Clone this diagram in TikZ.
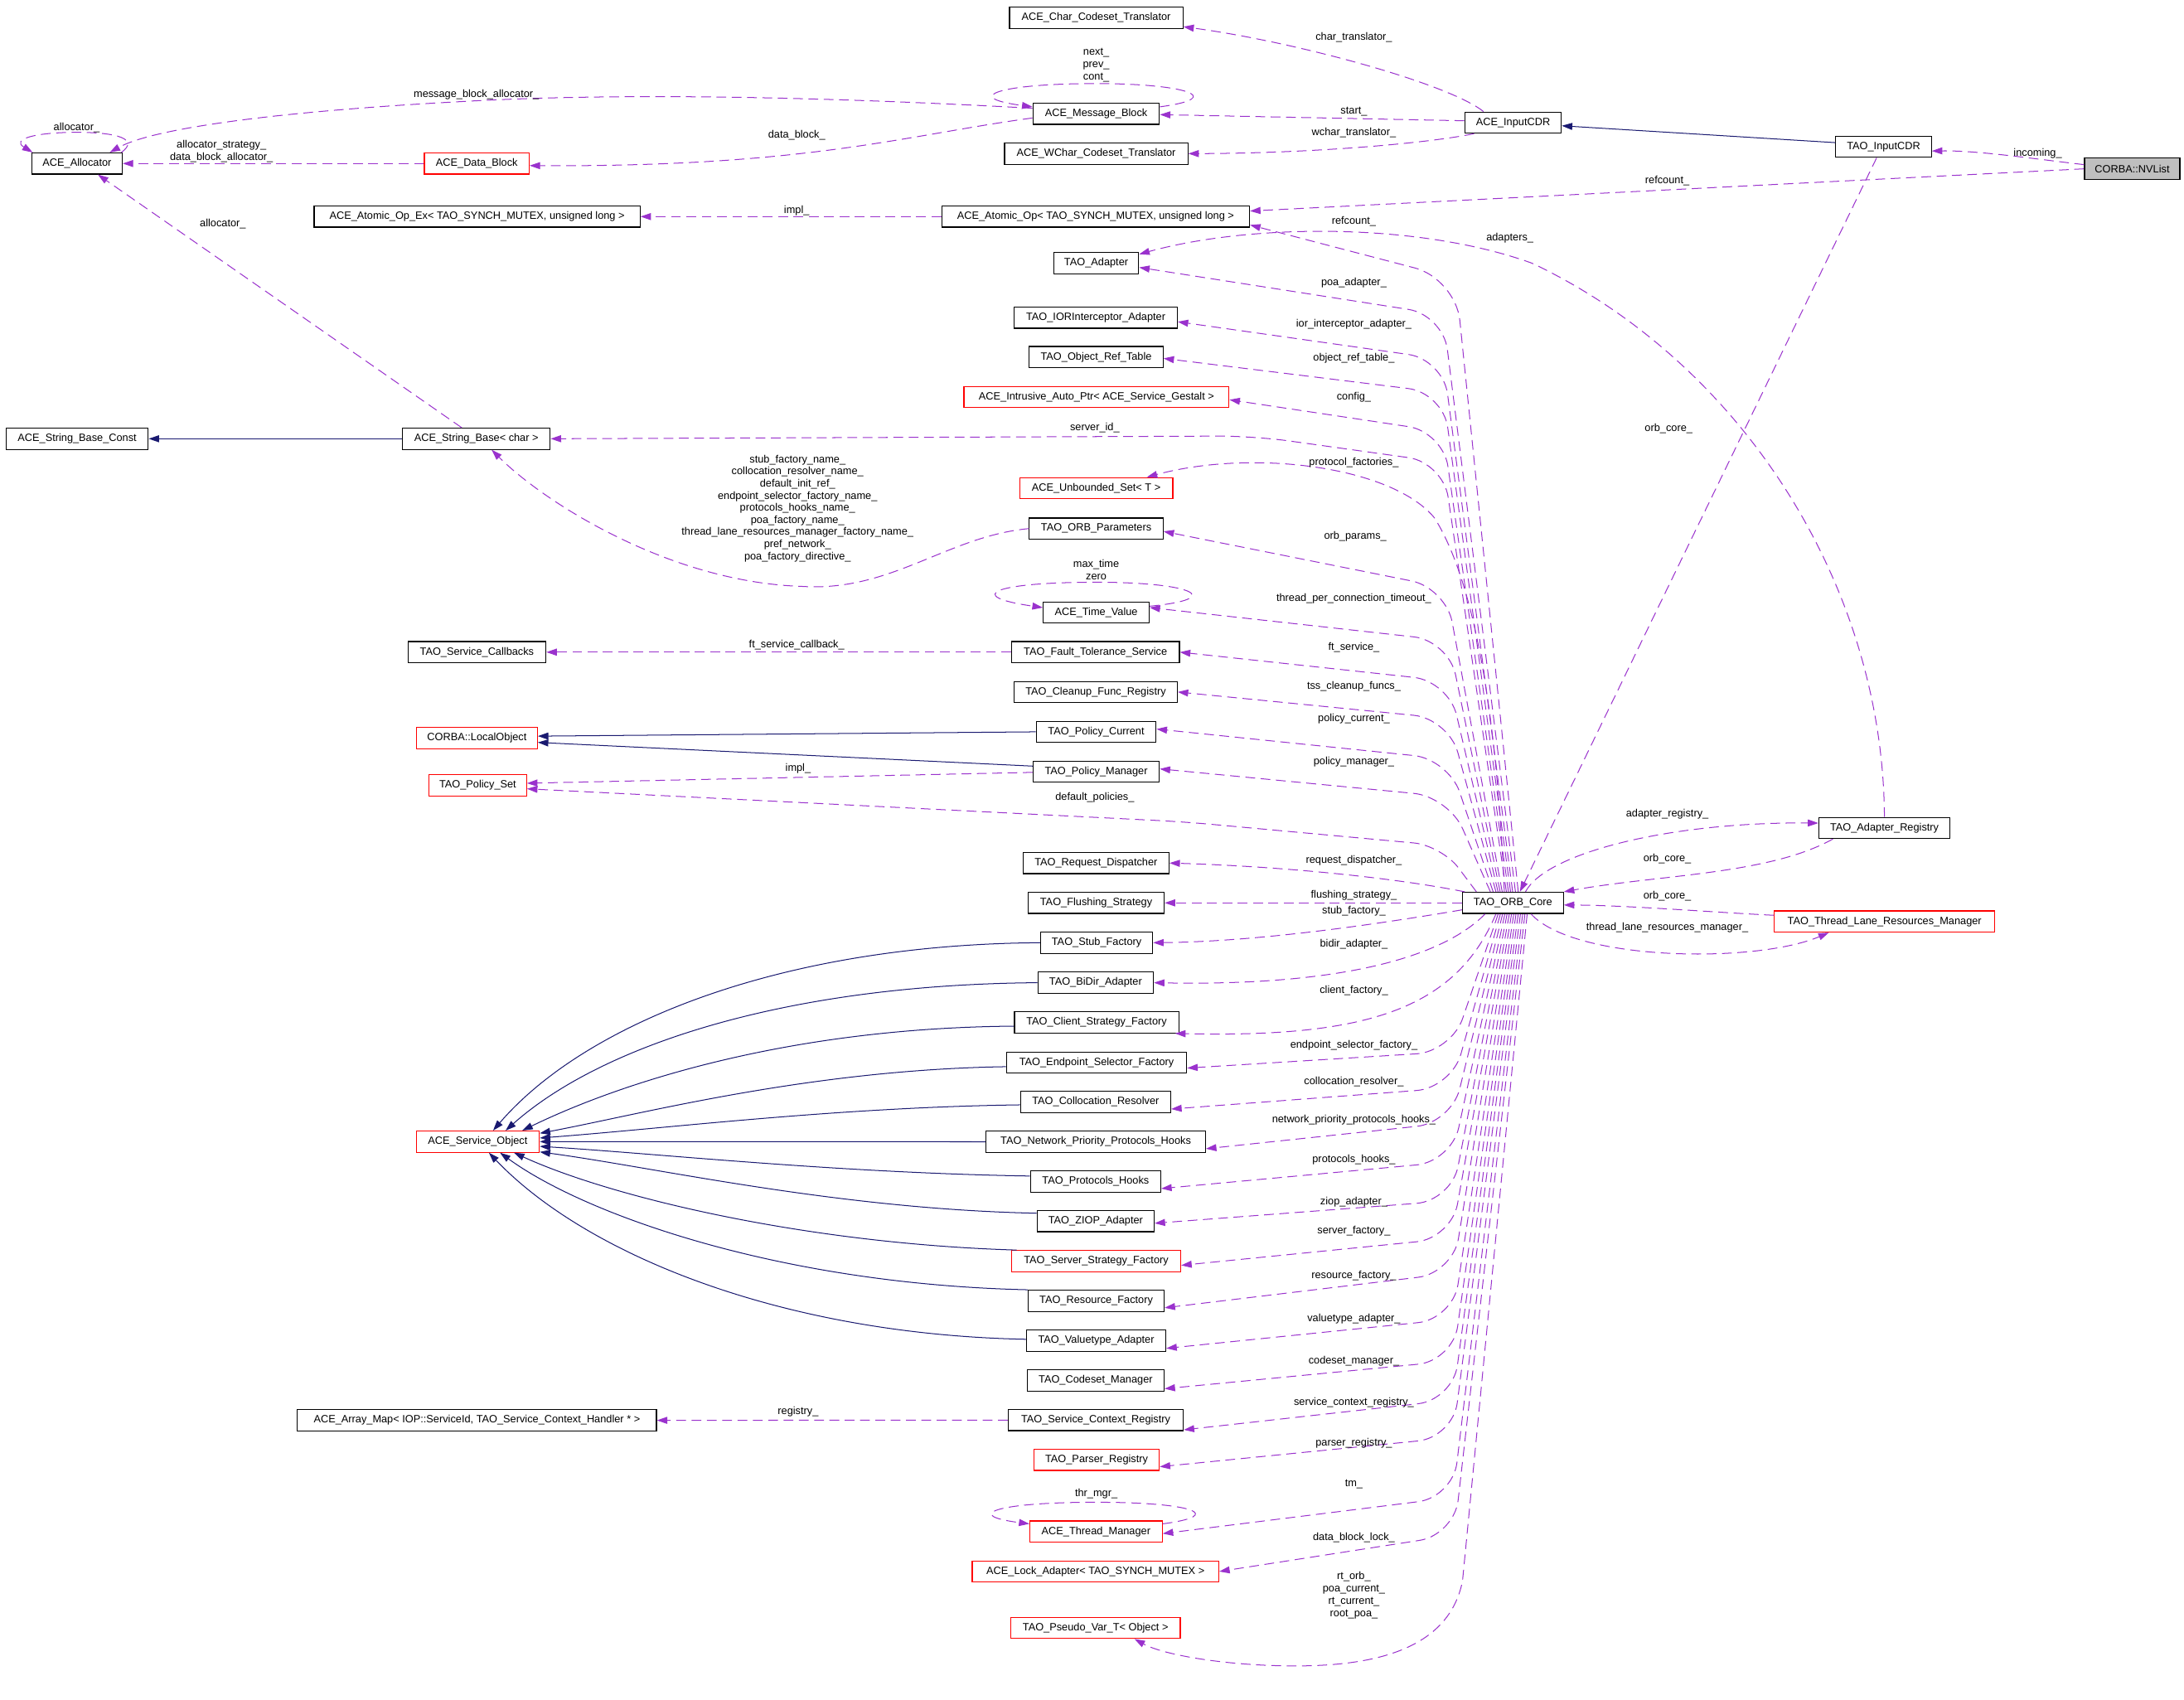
\documentclass[tikz,border=0pt]{standalone}
\usepackage{fontspec}
\setmainfont{Liberation Sans}
\usetikzlibrary{arrows.meta}
\definecolor{edgeuse}{HTML}{9A32CD}
\definecolor{edgeinh}{HTML}{191970}
\definecolor{nodegrey}{HTML}{BFBFBF}
\newcommand\lbl{\fontsize{7.6}{9}\selectfont}
\tikzset{
  box/.style={draw=black, line width=0.7pt, minimum height=15.2pt, inner sep=0pt, font=\lbl},
  redbox/.style={box, draw=red},
  rootbox/.style={box, fill=nodegrey},
  lab/.style={font=\lbl, inner sep=0pt, align=center},
  usedge/.style={draw=edgeuse, line width=0.6pt, dash pattern=on 7pt off 4pt, -{Triangle[length=7.5pt,width=5pt]}},
  inhedge/.style={draw=edgeinh, line width=0.6pt, -{Triangle[length=7.5pt,width=5pt]}},
}
\begin{document}
\begin{tikzpicture}[x=1pt,y=-1pt]
\fill[white] (0,0) rectangle (1568,1220);
\useasboundingbox (0,0) rectangle (1568,1220);

% ---------- nodes ----------
\node[box, minimum width=124.5pt] (chart) at (787,12.7) {ACE\_Char\_Codeset\_Translator};
\node[box, minimum width=90.8pt] (msgblk) at (787,81.7) {ACE\_Message\_Block};
\node[box, minimum width=131.6pt] (wchar) at (787,110.3) {ACE\_WChar\_Codeset\_Translator};
\node[box, minimum width=69.3pt] (icdr) at (1086.3,88) {ACE\_InputCDR};
\node[box, minimum width=68.6pt] (ticdr) at (1352.3,105.4) {TAO\_InputCDR};
\node[rootbox, minimum width=68.4pt] (nvlist) at (1530.8,121.2) {CORBA::NVList};
\node[box, minimum width=65pt] (alloc) at (55.3,117.4) {ACE\_Allocator};
\node[redbox, minimum width=75.2pt] (dblk) at (342.3,117.4) {ACE\_Data\_Block};
\node[box, minimum width=234pt] (aopex) at (342.5,155.5) {ACE\_Atomic\_Op\_Ex< TAO\_SYNCH\_MUTEX, unsigned long >};
\node[box, minimum width=221pt] (aop) at (786.6,155.5) {ACE\_Atomic\_Op< TAO\_SYNCH\_MUTEX, unsigned long >};
\node[box, minimum width=61pt] (adapter) at (787,189) {TAO\_Adapter};
\node[box, minimum width=117pt] (ior) at (786.7,228) {TAO\_IORInterceptor\_Adapter};
\node[box, minimum width=96pt] (ort) at (787,256.3) {TAO\_Object\_Ref\_Table};
\node[redbox, minimum width=190.3pt] (iap) at (787.2,285) {ACE\_Intrusive\_Auto\_Ptr< ACE\_Service\_Gestalt >};
\node[box, minimum width=102pt] (sbc) at (55.4,315) {ACE\_String\_Base\_Const};
\node[box, minimum width=106pt] (sb) at (342,315) {ACE\_String\_Base< char >};
\node[redbox, minimum width=110pt] (uset) at (787,350.5) {ACE\_Unbounded\_Set< T >};
\node[box, minimum width=96pt] (orbp) at (787,379.5) {TAO\_ORB\_Parameters};
\node[box, minimum width=76pt] (tv) at (787,439.7) {ACE\_Time\_Value};
\node[box, minimum width=99pt] (scb) at (342.4,468.2) {TAO\_Service\_Callbacks};
\node[box, minimum width=120.5pt] (fts) at (786.5,468.2) {TAO\_Fault\_Tolerance\_Service};
\node[box, minimum width=117pt] (cfr) at (786.7,496.8) {TAO\_Cleanup\_Func\_Registry};
\node[box, minimum width=86pt] (pc) at (787,525.4) {TAO\_Policy\_Current};
\node[redbox, minimum width=86.8pt] (lo) at (342.4,530) {CORBA::LocalObject};
\node[box, minimum width=90.6pt] (pm) at (787,554) {TAO\_Policy\_Manager};
\node[redbox, minimum width=70pt] (ps) at (343,563.8) {TAO\_Policy\_Set};
\node[box, minimum width=104.7pt] (rd) at (786.9,619.6) {TAO\_Request\_Dispatcher};
\node[box, minimum width=97.6pt] (fs) at (787,648.2) {TAO\_Flushing\_Strategy};
\node[box, minimum width=72.4pt] (orb) at (1086.2,648.2) {TAO\_ORB\_Core};
\node[box, minimum width=80.5pt] (stf) at (787.3,676.8) {TAO\_Stub\_Factory};
\node[box, minimum width=83pt] (bidir) at (786.6,705.5) {TAO\_BiDir\_Adapter};
\node[box, minimum width=118pt] (csf) at (787.3,734) {TAO\_Client\_Strategy\_Factory};
\node[box, minimum width=129.4pt] (esf) at (787.3,762.8) {TAO\_Endpoint\_Selector\_Factory};
\node[box, minimum width=107.8pt] (cr) at (786.6,791.2) {TAO\_Collocation\_Resolver};
\node[box, minimum width=157.5pt] (npph) at (786.7,819.7) {TAO\_Network\_Priority\_Protocols\_Hooks};
\node[box, minimum width=93.5pt] (ph) at (786.6,848.3) {TAO\_Protocols\_Hooks};
\node[box, minimum width=84pt] (ziop) at (786.6,876.7) {TAO\_ZIOP\_Adapter};
\node[redbox, minimum width=121.4pt] (ssf) at (787,905.4) {TAO\_Server\_Strategy\_Factory};
\node[box, minimum width=97.6pt] (rf) at (787,933.9) {TAO\_Resource\_Factory};
\node[box, minimum width=100pt] (vta) at (787,962.5) {TAO\_Valuetype\_Adapter};
\node[box, minimum width=98.3pt] (cm) at (786.6,991) {TAO\_Codeset\_Manager};
\node[box, minimum width=125.7pt] (scr) at (786.7,1019.5) {TAO\_Service\_Context\_Registry};
\node[box, minimum width=257.7pt] (am) at (342.4,1019.7) {ACE\_Array\_Map< IOP::ServiceId, TAO\_Service\_Context\_Handler * >};
\node[redbox, minimum width=90pt] (pr) at (787.3,1048) {TAO\_Parser\_Registry};
\node[redbox, minimum width=95pt] (tmgr) at (786.9,1099.5) {ACE\_Thread\_Manager};
\node[redbox, minimum width=177pt] (la) at (786.5,1128.2) {ACE\_Lock\_Adapter< TAO\_SYNCH\_MUTEX >};
\node[redbox, minimum width=121.7pt] (pv) at (786.5,1168.7) {TAO\_Pseudo\_Var\_T< Object >};
\node[redbox, minimum width=88.4pt] (so) at (343,819.6) {ACE\_Service\_Object};
\node[box, minimum width=94.2pt] (areg) at (1352.9,594.4) {TAO\_Adapter\_Registry};
\node[redbox, minimum width=158.2pt] (tlrm) at (1353,661.6) {TAO\_Thread\_Lane\_Resources\_Manager};

% ---------- top area edges ----------
\draw[usedge] ([yshift=4pt]msgblk.west) .. controls (600,70) and (450,66) .. (330,73) .. controls (200,80) and (110,92) .. ([xshift=23.5pt]alloc.north);
\draw[usedge] ([xshift=-1pt]alloc.north east) .. controls (100,100) and (85,95) .. (55,95) .. controls (25,95) and (8,100) .. ([xshift=1pt]alloc.north west);
\draw[usedge] (dblk.west) -- (alloc.east);
\draw[usedge] ([yshift=-3pt]msgblk.west) .. controls (650,97) and (580,120) .. ([yshift=-1.5pt]dblk.east);
\draw[usedge] ([yshift=5pt]msgblk.east) .. controls (882,70) and (850,60) .. (787,60) .. controls (716,60) and (690,70) .. ([yshift=5pt]msgblk.west);
\draw[usedge] ([xshift=-21.3pt]icdr.north) .. controls (1040,60) and (930,30) .. ([yshift=-6.5pt]chart.east);
\draw[usedge] ([yshift=1.3pt]icdr.west) -- ([yshift=-0.6pt]msgblk.east);
\draw[usedge] ([xshift=-28pt]icdr.south) .. controls (1030,102) and (950,110) .. (wchar.east);
\draw[inhedge] ([yshift=3pt]ticdr.west) -- ([yshift=-2.3pt]icdr.east);
\draw[usedge] ([yshift=3pt]nvlist.west) .. controls (1460,114) and (1420,108) .. ([yshift=-3pt]ticdr.east);
\draw[usedge] (nvlist.west) -- ([yshift=4pt]aop.east);
\draw[usedge] (aop.west) -- (aopex.east);

% ---------- ORB core, upper targets ----------
\draw[usedge, rounded corners=30pt] ([xshift=3.8pt]orb.north) -- (1045,200) -- ([yshift=-6pt]aop.east);
\draw[usedge, rounded corners=25pt] ([xshift=1.8pt]orb.north) -- (1036,226) -- ([yshift=-3pt]adapter.east);
\draw[usedge, rounded corners=25pt] ([xshift=-0.2pt]orb.north) -- (1036,258) -- ([yshift=-3pt]ior.east);
\draw[usedge, rounded corners=25pt] ([xshift=-1.7pt]orb.north) -- (1036,282) -- ([yshift=-1pt]ort.east);
\draw[usedge, rounded corners=25pt] ([xshift=-3.2pt]orb.north) -- (1036,310) -- ([yshift=-2pt]iap.east);
\draw[usedge, rounded corners=25pt] ([xshift=-4.7pt]orb.north) -- (1036,332) -- (900,313) -- (sb.east);
\draw[usedge] ([xshift=-6.2pt]orb.north) .. controls (1075,520) and (1060,420) .. (1030,372) .. controls (1000,335) and (900,322) .. ([xshift=-19pt]uset.north east);
\draw[usedge, rounded corners=25pt] ([xshift=-7.7pt]orb.north) -- (1038,422) -- ([yshift=-2pt]orbp.east);
\draw[usedge, rounded corners=25pt] ([xshift=-9.2pt]orb.north) -- (1040,460) -- ([yshift=3.5pt]tv.east);
\draw[usedge, rounded corners=25pt] ([xshift=-10.7pt]orb.north) -- (1040,489) -- (fts.east);
\draw[usedge, rounded corners=25pt] ([xshift=-12.2pt]orb.north) -- (1040,516) -- (cfr.east);
\draw[usedge, rounded corners=25pt] ([xshift=-14.2pt]orb.north) -- (1040,545) -- ([yshift=2pt]pc.east);
\draw[usedge, rounded corners=25pt] ([xshift=-16.2pt]orb.north) -- (1040,572) -- ([yshift=2pt]pm.east);
\draw[usedge, rounded corners=20pt] ([xshift=-26.2pt]orb.north) -- (1035,607) -- (850,590) -- ([yshift=-2.5pt]ps.east);
\draw[usedge] ([xshift=2pt]orb.north west) .. controls (1000,630) and (920,622) .. (rd.east);
\draw[usedge] (orb.west) -- (fs.east);
\draw[usedge] ([yshift=-5pt]orb.west) .. controls (980,665) and (900,676) .. (stf.east);
\draw[usedge] ([xshift=-20pt]orb.south) .. controls (1035,688) and (960,708) .. (bidir.east);
\draw[usedge] ([xshift=-12.2pt]orb.south) .. controls (1045,725) and (980,745) .. ([xshift=-3pt]csf.south east);

% ---------- ORB core, lower targets ----------
\draw[usedge, rounded corners=25pt] ([xshift=-10.6pt]orb.south) -- (1042,755) -- ([yshift=-4pt]esf.east);
\draw[usedge, rounded corners=25pt] ([xshift=-9pt]orb.south) -- (1042,781) -- ([yshift=-5pt]cr.east);
\draw[usedge, rounded corners=25pt] ([xshift=-7.4pt]orb.south) -- (1042,806) -- ([yshift=-5pt]npph.east);
\draw[usedge, rounded corners=25pt] ([xshift=-5.8pt]orb.south) -- (1042,834) -- ([yshift=-5pt]ph.east);
\draw[usedge, rounded corners=25pt] ([xshift=-4.2pt]orb.south) -- (1042,862) -- ([yshift=-1.5pt]ziop.east);
\draw[usedge, rounded corners=25pt] ([xshift=-2.6pt]orb.south) -- (1042,889) -- ([yshift=-3pt]ssf.east);
\draw[usedge, rounded corners=25pt] ([xshift=-1pt]orb.south) -- (1043,914) -- ([yshift=-5pt]rf.east);
\draw[usedge, rounded corners=25pt] ([xshift=0.6pt]orb.south) -- (1043,947) -- ([yshift=-5.5pt]vta.east);
\draw[usedge, rounded corners=25pt] ([xshift=2.2pt]orb.south) -- (1043,977) -- ([yshift=-6pt]cm.east);
\draw[usedge, rounded corners=25pt] ([xshift=3.8pt]orb.south) -- (1043,1005) -- ([yshift=-7pt]scr.east);
\draw[usedge, rounded corners=25pt] ([xshift=5.4pt]orb.south) -- (1043,1032) -- ([yshift=-5pt]pr.east);
\draw[usedge, rounded corners=25pt] ([xshift=7pt]orb.south) -- (1043,1075) -- ([yshift=-1.5pt]tmgr.east);
\draw[usedge, rounded corners=25pt] ([xshift=8.6pt]orb.south) -- (1044,1102) -- (la.east);
\draw[usedge] ([xshift=10.2pt]orb.south) -- (1050,1135) .. controls (1040,1185) and (985,1196) .. (930,1196) .. controls (880,1196) and (835,1188) .. ([xshift=28pt]pv.south);

% ---------- right side ----------
\draw[usedge] ([xshift=-5pt]ticdr.south) -- ([xshift=5pt]orb.north);
\draw[usedge] ([xshift=9pt]orb.north) .. controls (1110,612) and (1200,590) .. ([yshift=3.5pt]areg.west);
\draw[usedge] ([xshift=-37pt]areg.south) .. controls (1270,628) and (1190,628) .. (orb.north east);
\draw[usedge] ([yshift=4.5pt]tlrm.west) .. controls (1230,655) and (1170,650) .. ([yshift=-1.5pt]orb.east);
\draw[usedge] ([xshift=13pt]orb.south) .. controls (1130,690) and (1260,692) .. ([xshift=-40pt]tlrm.south);
\draw[usedge] (areg.north) .. controls (1352,420) and (1250,260) .. (1100,189) .. controls (1020,160) and (900,160) .. ([yshift=6.5pt]adapter.east);

% ---------- left / middle ----------
\draw[usedge] ([xshift=-10.5pt]sb.north) -- ([xshift=15pt]alloc.south);
\draw[inhedge] (sb.west) -- (sbc.east);
\draw[usedge] (orbp.west) .. controls (680,385) and (640,425) .. (576,421) .. controls (480,418) and (390,360) .. ([xshift=11pt]sb.south);
\draw[usedge] ([yshift=4.5pt]tv.east) .. controls (880,430) and (858,418) .. (787,418) .. controls (712,418) and (692,428) .. ([yshift=3.5pt]tv.west);
\draw[usedge] (fts.west) -- (scb.east);
\draw[inhedge] (pc.west) -- ([yshift=1.5pt]lo.east);
\draw[inhedge] ([yshift=4pt]pm.west) -- ([yshift=-3pt]lo.east);
\draw[usedge] ([yshift=-0.5pt]pm.west) -- ([yshift=1.5pt]ps.east);
\draw[usedge] (scr.west) -- (am.east);
\draw[usedge] ([yshift=5.5pt]tmgr.east) .. controls (880,1088) and (858,1078.5) .. (787,1078.5) .. controls (712,1078.5) and (692,1088) .. ([yshift=5.5pt]tmgr.west);

% ---------- inheritance to ACE_Service_Object ----------
\draw[inhedge] (stf.west) .. controls (560,678) and (420,735) .. ([xshift=11pt]so.north);
\draw[inhedge] (bidir.west) .. controls (560,707) and (430,752) .. ([xshift=20pt]so.north);
\draw[inhedge] ([yshift=-2.7pt]csf.west) .. controls (560,738) and (440,780) .. ([xshift=32pt]so.north);
\draw[inhedge] ([yshift=-3pt]esf.west) .. controls (580,768) and (460,800) .. ([yshift=6pt]so.east);
\draw[inhedge] ([yshift=-2pt]cr.west) .. controls (600,795) and (480,810) .. ([yshift=2.6pt]so.east);
\draw[inhedge] (npph.west) -- (so.east);
\draw[inhedge] ([yshift=4pt]ph.west) .. controls (600,842) and (470,828) .. ([yshift=-3.4pt]so.east);
\draw[inhedge] ([yshift=5.7pt]ziop.west) .. controls (600,868) and (470,838) .. ([yshift=-7.4pt]so.east);
\draw[inhedge] ([xshift=4pt]ssf.north west) .. controls (580,893) and (440,860) .. ([xshift=26pt]so.south);
\draw[inhedge] (rf.north west) .. controls (560,922) and (420,872) .. ([xshift=16pt]so.south);
\draw[inhedge] ([yshift=1pt]vta.west) .. controls (560,958) and (420,900) .. ([xshift=8pt]so.south);

% ---------- labels ----------
\node[lab] (l1) at (55,91.5) {allocator\_};
\node[lab] (l2) at (342,68) {message\_block\_allocator\_};
\node[lab] (l3) at (159,108.5) {allocator\_strategy\_\\data\_block\_allocator\_};
\node[lab] (l4) at (572,97) {data\_block\_};
\node[lab] (l5) at (787,47) {next\_\\prev\_\\cont\_};
\node[lab] (l6) at (972,27) {char\_translator\_};
\node[lab] (l7) at (972,80) {start\_};
\node[lab] (l8) at (972,95) {wchar\_translator\_};
\node[lab] (l9) at (1463,110) {incoming\_};
\node[lab] (l10) at (1197,130) {refcount\_};
\node[lab] (l11) at (572,151) {impl\_};
\node[lab] (l12) at (972,159) {refcount\_};
\node[lab] (l13) at (1084,171) {adapters\_};
\node[lab] (l14) at (972,203) {poa\_adapter\_};
\node[lab] (l15) at (972,233) {ior\_interceptor\_adapter\_};
\node[lab] (l16) at (972,257) {object\_ref\_table\_};
\node[lab] (l17) at (972,285) {config\_};
\node[lab] (l18) at (786,307) {server\_id\_};
\node[lab] (l19) at (972,332) {protocol\_factories\_};
\node[lab, font=\fontsize{7.6}{8.7}\selectfont] (l20) at (572.6,365) {stub\_factory\_name\_\\collocation\_resolver\_name\_\\default\_init\_ref\_\\endpoint\_selector\_factory\_name\_\\protocols\_hooks\_name\_\\poa\_factory\_name\_\\thread\_lane\_resources\_manager\_factory\_name\_\\pref\_network\_\\poa\_factory\_directive\_};
\node[lab] (l21) at (973,385) {orb\_params\_};
\node[lab] (l22) at (787,409) {max\_time\\zero};
\node[lab] (l23) at (972,429.5) {thread\_per\_connection\_timeout\_};
\node[lab] (l24) at (160,161) {allocator\_};
\node[lab] (l25) at (572,463) {ft\_service\_callback\_};
\node[lab] (l26) at (972,465) {ft\_service\_};
\node[lab] (l27) at (972,492.6) {tss\_cleanup\_funcs\_};
\node[lab] (l28) at (972,516) {policy\_current\_};
\node[lab] (l29) at (972,547) {policy\_manager\_};
\node[lab] (l30) at (573,551.6) {impl\_};
\node[lab] (l31) at (786,572.7) {default\_policies\_};
\node[lab] (l32) at (1197,584.6) {adapter\_registry\_};
\node[lab] (l33) at (1197,616.5) {orb\_core\_};
\node[lab] (l34) at (972,618) {request\_dispatcher\_};
\node[lab] (l35) at (972,642.7) {flushing\_strategy\_};
\node[lab] (l36) at (1197,643.6) {orb\_core\_};
\node[lab] (l37) at (972,654) {stub\_factory\_};
\node[lab] (l38) at (1197,666) {thread\_lane\_resources\_manager\_};
\node[lab] (l39) at (972,677.6) {bidir\_adapter\_};
\node[lab] (l40) at (972,711) {client\_factory\_};
\node[lab] (l41) at (972,750.5) {endpoint\_selector\_factory\_};
\node[lab] (l42) at (972,776.6) {collocation\_resolver\_};
\node[lab] (l43) at (972,804) {network\_priority\_protocols\_hooks\_};
\node[lab] (l44) at (972,832.5) {protocols\_hooks\_};
\node[lab] (l45) at (972,862.7) {ziop\_adapter\_};
\node[lab] (l46) at (972,883.7) {server\_factory\_};
\node[lab] (l47) at (972,916) {resource\_factory\_};
\node[lab] (l48) at (972,947) {valuetype\_adapter\_};
\node[lab] (l49) at (972,977.5) {codeset\_manager\_};
\node[lab] (l50) at (972,1006.7) {service\_context\_registry\_};
\node[lab] (l51) at (573,1013.6) {registry\_};
\node[lab] (l52) at (972,1036.4) {parser\_registry\_};
\node[lab] (l53) at (972,1065.5) {tm\_};
\node[lab] (l54) at (787,1072.6) {thr\_mgr\_};
\node[lab] (l55) at (972,1104) {data\_block\_lock\_};
\node[lab, font=\fontsize{7.6}{8.8}\selectfont] (l56) at (972,1145.3) {rt\_orb\_\\poa\_current\_\\rt\_current\_\\root\_poa\_};
\node[lab] (l57) at (1198,308) {orb\_core\_};
\end{tikzpicture}
\end{document}
